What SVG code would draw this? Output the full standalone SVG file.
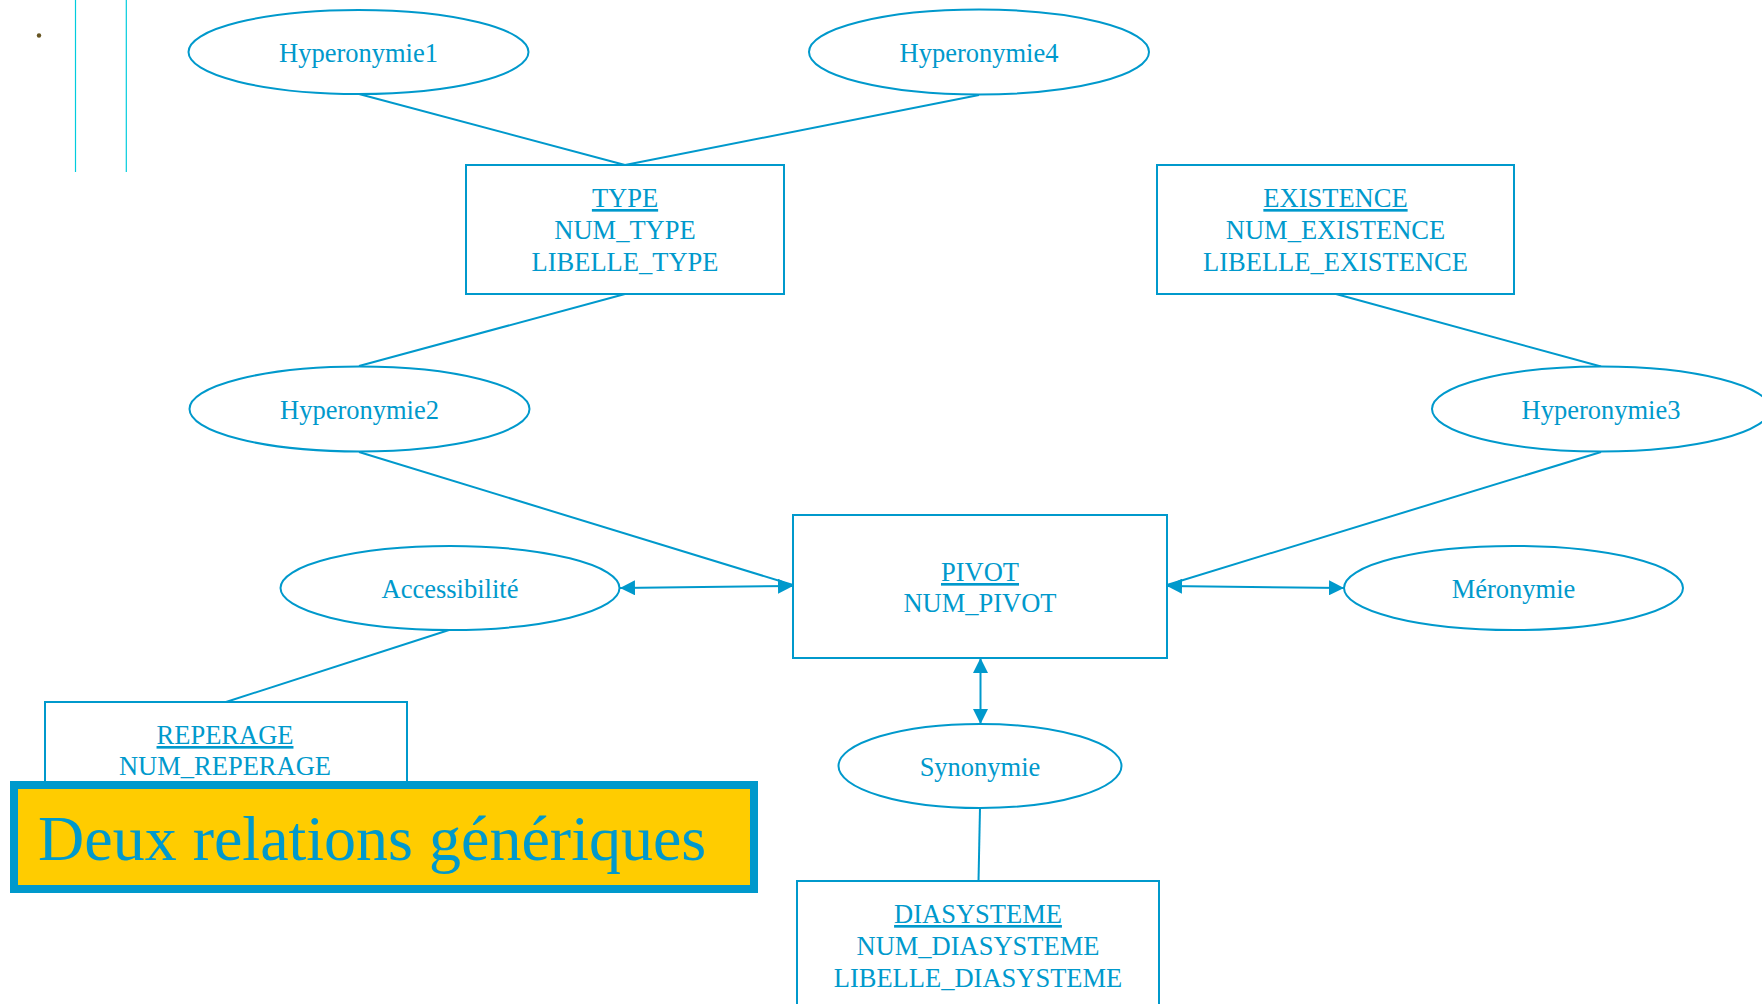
<svg xmlns="http://www.w3.org/2000/svg" width="1762" height="1004" viewBox="0 0 1762 1004">
  <style>
    .shape { fill: #ffffff; stroke: #0099CC; stroke-width: 2; }
    .link { fill: none; stroke: #0099CC; stroke-width: 2; }
    .lbl { font-family: "Liberation Serif", "Times New Roman", serif; font-size: 26.5px; fill: #0099CC; text-anchor: middle; }
    .key { text-decoration: underline; }
  </style>
  <defs>
    <marker id="tip" markerUnits="userSpaceOnUse" markerWidth="16" markerHeight="15" refX="15" refY="7.5" orient="auto-start-reverse">
      <path d="M0,0 L15,7.5 L0,15 z" fill="#0099CC"/>
    </marker>
  </defs>

  <rect width="1762" height="1004" fill="#ffffff"/>

  <!-- margin rules -->
  <g id="margin">
    <line x1="75.5" y1="0" x2="75.5" y2="172" stroke="#00CCDD" stroke-width="1.2"/>
    <line x1="126.3" y1="0" x2="126.3" y2="172" stroke="#00CCDD" stroke-width="1.2"/>
    <circle cx="39" cy="35.5" r="2.2" fill="#665522"/>
  </g>

  <!-- connectors -->
  <g id="connectors">
    <line class="link" x1="359" y1="94" x2="625" y2="165"/>
    <line class="link" x1="979" y1="95" x2="625" y2="165"/>
    <line class="link" x1="625" y1="294" x2="359" y2="366"/>
    <line class="link" x1="1336" y1="294" x2="1601" y2="366.5"/>
    <line class="link" x1="359" y1="452" x2="793" y2="585"/>
    <line class="link" x1="1601" y1="452" x2="1167" y2="585"/>
    <line class="link" x1="449" y1="630" x2="226" y2="702"/>
    <line class="link" x1="980" y1="808" x2="978.5" y2="881"/>
    <path class="link" d="M620,588 L793,586" marker-start="url(#tip)" marker-end="url(#tip)"/>
    <path class="link" d="M1167,586 L1344,588" marker-start="url(#tip)" marker-end="url(#tip)"/>
    <path class="link" d="M980.5,658 L980.5,724" marker-start="url(#tip)" marker-end="url(#tip)"/>
  </g>

  <g id="hyperonymie1">
    <ellipse class="shape" cx="358.5" cy="52" rx="170" ry="42"/>
    <text class="lbl" x="358.5" y="62">Hyperonymie1</text>
  </g>

  <g id="hyperonymie4">
    <ellipse class="shape" cx="979" cy="52" rx="170" ry="42.5"/>
    <text class="lbl" x="979" y="62">Hyperonymie4</text>
  </g>

  <g id="type">
    <rect class="shape" x="466" y="165" width="318" height="129"/>
    <text class="lbl key" x="625" y="207">TYPE</text>
    <text class="lbl" x="625" y="239">NUM_TYPE</text>
    <text class="lbl" x="625" y="271">LIBELLE_TYPE</text>
  </g>

  <g id="existence">
    <rect class="shape" x="1157" y="165" width="357" height="129"/>
    <text class="lbl key" x="1335.5" y="207">EXISTENCE</text>
    <text class="lbl" x="1335.5" y="239">NUM_EXISTENCE</text>
    <text class="lbl" x="1335.5" y="271">LIBELLE_EXISTENCE</text>
  </g>

  <g id="hyperonymie2">
    <ellipse class="shape" cx="359.5" cy="409" rx="170" ry="42.5"/>
    <text class="lbl" x="359.5" y="419">Hyperonymie2</text>
  </g>

  <g id="hyperonymie3">
    <ellipse class="shape" cx="1601" cy="409" rx="169" ry="42.5"/>
    <text class="lbl" x="1601" y="419">Hyperonymie3</text>
  </g>

  <g id="pivot">
    <rect class="shape" x="793" y="515" width="374" height="143"/>
    <text class="lbl key" x="980" y="581">PIVOT</text>
    <text class="lbl" x="980" y="612">NUM_PIVOT</text>
  </g>

  <g id="accessibilite">
    <ellipse class="shape" cx="450" cy="588" rx="169.5" ry="42"/>
    <text class="lbl" x="450" y="598">Accessibilité</text>
  </g>

  <g id="meronymie">
    <ellipse class="shape" cx="1513.5" cy="588" rx="169.5" ry="42"/>
    <text class="lbl" x="1513.5" y="598">Méronymie</text>
  </g>

  <g id="synonymie">
    <ellipse class="shape" cx="980" cy="766" rx="141.5" ry="42"/>
    <text class="lbl" x="980" y="776">Synonymie</text>
  </g>

  <g id="diasysteme">
    <rect class="shape" x="797" y="881" width="362" height="140"/>
    <text class="lbl key" x="978" y="923">DIASYSTEME</text>
    <text class="lbl" x="978" y="955">NUM_DIASYSTEME</text>
    <text class="lbl" x="978" y="987">LIBELLE_DIASYSTEME</text>
  </g>

  <g id="reperage">
    <rect class="shape" x="45" y="702" width="362" height="110"/>
    <text class="lbl key" x="225" y="744">REPERAGE</text>
    <text class="lbl" x="225" y="775">NUM_REPERAGE</text>
  </g>

  <!-- title banner -->
  <g id="title">
    <rect x="14" y="785" width="740" height="104" fill="#FFCC00" stroke="#0099CC" stroke-width="8"/>
    <text x="38" y="860" font-family="'Liberation Serif', 'Times New Roman', serif" font-size="64" fill="#0099CC">Deux relations génériques</text>
  </g>
</svg>
